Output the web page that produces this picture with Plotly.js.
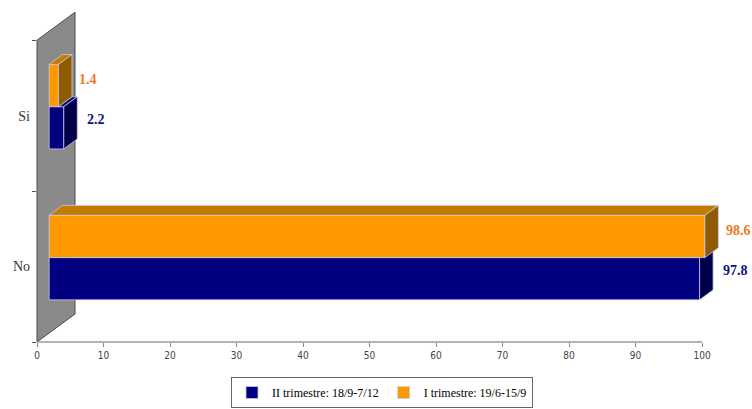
<!DOCTYPE html>
<html>
<head>
<meta charset="utf-8">
<script src="https://cdn.plot.ly/plotly-3.0.1.min.js"></script>
<style>
  html, body { margin: 0; padding: 0; background: #fff; }
  #chart { width: 752px; height: 409px; }
</style>
</head>
<body>
<div id="chart"></div>
<script>
// ---- data ----
const categories = ['No', 'Si'];
const seriesNames = ['II trimestre: 18/9-7/12', 'I trimestre: 19/6-15/9'];
const secondQuarter = [97.8, 2.2];   // II trimestre
const firstQuarter = [98.6, 1.4];    // I trimestre
const xTickValues = [0, 10, 20, 30, 40, 50, 60, 70, 80, 90, 100];

// ---- frame geometry ----
const W = 752, H = 409;
const M = { l: 37, r: 30, t: 10, b: 67, autoexpand: false };
const X_MAX = 103, Y_MAX = 2.2;
const pxPerX = (W - M.l - M.r) / X_MAX;
const pxPerY = (H - M.t - M.b) / Y_MAX;

// oblique projection: the box recedes up and to the right
const BOX_DEPTH_PX = { dx: 38, dy: 28 };
function depth(frac) {
  return { dx: BOX_DEPTH_PX.dx * frac / pxPerX, dy: BOX_DEPTH_PX.dy * frac / pxPerY };
}
const wallD = depth(1);        // full depth of the side wall
const barPlane = depth(0.32);  // front plane of the bars
const barD = depth(0.355);     // thickness of each bar
const BAR_H = 0.28;            // bar height in category units

const COLORS = {
  navy: { front: '#000080', top: '#0b0b74', side: '#00004a', label: '#10107e' },
  orange: { front: '#FF9900', top: '#C47C00', side: '#8E5B00', label: '#EE7A24' }
};
const EDGE = 'rgba(205,205,240,0.95)';

const x0 = barPlane.dx;
const centers = categories.map((_, i) => i + 0.5 + barPlane.dy);

// ---- projected faces ----
function addPoly(acc, xs, ys) {
  if (acc.x.length) { acc.x.push(null); acc.y.push(null); }
  acc.x.push(...xs, xs[0]);
  acc.y.push(...ys, ys[0]);
}
const navyTop = { x: [], y: [] }, navySide = { x: [], y: [] };
const orangeTop = { x: [], y: [] }, orangeSide = { x: [], y: [] };

categories.forEach((_, i) => {
  const c = centers[i];
  const eb = x0 + secondQuarter[i];
  const eo = x0 + firstQuarter[i];
  const dx = barD.dx, dy = barD.dy;

  // navy top face: only the part not covered by the orange bar above it
  if (eb > eo) {
    addPoly(navyTop, [eo, eb, eb + dx, eo + dx], [c, c, c + dy, c + dy]);
  }
  // navy side face, minus what the orange front face hides
  if (eo <= eb) {
    addPoly(navySide, [eb, eb + dx, eb + dx, eb], [c - BAR_H, c - BAR_H + dy, c + dy, c]);
  } else if (eo < eb + dx) {
    const yCut = c + (eo - eb) * dy / dx;
    addPoly(navySide, [eb, eb + dx, eb + dx, eo, eo, eb],
                      [c - BAR_H, c - BAR_H + dy, c + dy, yCut, c, c]);
  } else {
    addPoly(navySide, [eb, eb + dx, eb + dx, eb], [c - BAR_H, c - BAR_H + dy, c, c]);
  }
  // orange top and side faces
  const yt = c + BAR_H;
  addPoly(orangeTop, [x0, eo, eo + dx, x0 + dx], [yt, yt, yt + dy, yt + dy]);
  addPoly(orangeSide, [eo, eo + dx, eo + dx, eo], [c, c + dy, yt + dy, yt]);
});

function faceTrace(poly, color) {
  return {
    type: 'scatter', mode: 'lines', x: poly.x, y: poly.y,
    fill: 'toself', fillcolor: color,
    line: { color: EDGE, width: 0.8 },
    hoverinfo: 'skip', showlegend: false
  };
}

const catPos = categories.map((_, i) => i + 0.5);

const traces = [
  {
    type: 'bar', orientation: 'h', name: seriesNames[0],
    y: catPos, x: secondQuarter, base: x0,
    width: BAR_H, offset: barPlane.dy - BAR_H,
    marker: { color: COLORS.navy.front, line: { color: EDGE, width: 0.8 } },
    hoverinfo: 'skip'
  },
  {
    type: 'bar', orientation: 'h', name: seriesNames[1],
    y: catPos, x: firstQuarter, base: x0,
    width: BAR_H, offset: barPlane.dy,
    marker: { color: COLORS.orange.front, line: { color: EDGE, width: 0.8 } },
    hoverinfo: 'skip'
  },
  faceTrace(navyTop, COLORS.navy.top),
  faceTrace(navySide, COLORS.navy.side),
  faceTrace(orangeTop, COLORS.orange.top),
  faceTrace(orangeSide, COLORS.orange.side)
];

// value labels beside each bar
const annotations = [];
categories.forEach((_, i) => {
  annotations.push({
    x: x0 + secondQuarter[i], y: centers[i] - BAR_H / 2,
    xref: 'x', yref: 'y', text: secondQuarter[i].toFixed(1),
    showarrow: false, xanchor: 'left', xshift: 21, yshift: 8,
    font: { family: 'Liberation Serif, serif', size: 14, color: COLORS.navy.label, weight: 'bold' }
  });
  annotations.push({
    x: x0 + firstQuarter[i], y: centers[i] + BAR_H / 2,
    xref: 'x', yref: 'y', text: firstQuarter[i].toFixed(1),
    showarrow: false, xanchor: 'left', xshift: 19, yshift: 6,
    font: { family: 'Liberation Serif, serif', size: 14, color: COLORS.orange.label, weight: 'bold' }
  });
});

// side wall and floor edge
const px = v => v / X_MAX, py = v => v / Y_MAX;
const shapes = [
  {
    type: 'path', xref: 'paper', yref: 'paper', layer: 'below',
    path: `M0,0 L0,${py(2)} L${px(wallD.dx)},${py(2 + wallD.dy)} L${px(wallD.dx)},${py(wallD.dy)} Z`,
    fillcolor: '#8a8a8a', line: { color: '#4a4a4a', width: 1 }
  },
  {
    type: 'line', xref: 'paper', yref: 'paper', layer: 'below',
    x0: 0, x1: px(100), y0: 0, y1: 0,
    line: { color: '#9a9a9a', width: 1.5 }
  }
];

const plotH = H - M.t - M.b;
const layout = {
  width: W, height: H,
  margin: M,
  paper_bgcolor: '#ffffff',
  plot_bgcolor: 'rgba(0,0,0,0)',
  barmode: 'overlay',
  showlegend: true,
  xaxis: {
    range: [0, X_MAX], tickmode: 'array', tickvals: xTickValues,
    ticks: 'outside', ticklen: 4, tickcolor: '#888', tickwidth: 1,
    showgrid: false, zeroline: false, showline: false,
    tickfont: { family: 'Liberation Sans Narrow, DejaVu Sans Condensed, sans-serif', size: 10, color: '#444' },
    fixedrange: true
  },
  yaxis: {
    range: [0, Y_MAX], tickmode: 'array', tickvals: catPos, ticktext: categories,
    ticks: '', showgrid: false, zeroline: false, showline: false,
    minor: { tickmode: 'array', tickvals: [0, 1, 2], ticks: 'outside', ticklen: 4, tickcolor: '#555', showgrid: false },
    ticklabelstandoff: 6,
    tickfont: { family: 'Liberation Serif, serif', size: 14, color: '#333' },
    fixedrange: true
  },
  legend: {
    orientation: 'h', x: (382 - M.l) / (W - M.l - M.r), xanchor: 'center',
    y: -(408 - (H - M.b)) / plotH, yanchor: 'bottom',
    bordercolor: '#666', borderwidth: 1, bgcolor: '#fff',
    font: { family: 'Liberation Serif, serif', size: 12, color: '#000' },
    itemwidth: 30, traceorder: 'normal'
  },
  shapes: shapes,
  annotations: annotations
};

Plotly.newPlot('chart', traces, layout, { displayModeBar: false, staticPlot: true });
</script>
</body>
</html>
